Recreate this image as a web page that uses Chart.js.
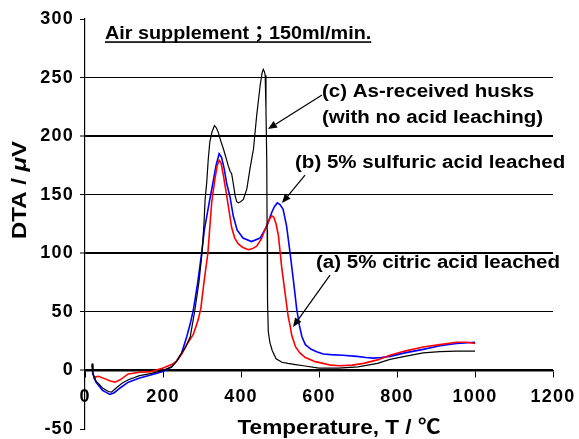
<!DOCTYPE html>
<html>
<head>
<meta charset="utf-8">
<script src="https://cdn.jsdelivr.net/npm/chart.js@4.4.1/dist/chart.umd.min.js"></script>
<style>
  html, body { margin: 0; padding: 0; background: #ffffff; }
  #wrap { width: 579px; height: 439px; }
</style>
</head>
<body>
<div id="wrap"><canvas id="c" width="579" height="439"></canvas></div>
<script>
// ---- Data ----
// (c) As-received husks (black)
const tempC = [18,20,28,45,60,68,80,95,111,140,171,200,222,235,248,258,270,282,292,300,305,308,312,316,320,326,332,337,342,348,355,362,367,372,376,380,385,389,393,399,406,415,423,432,440,449,454,457,460,462,464,466,467,468,470,474,480,490,505,520,540,560,600,650,700,750,782,820,867,910,953,1000];
const dtaC  = [6,-2,-9,-15,-18,-18.5,-15,-11,-8,-4.5,-2.5,0,3,8,15,20,29,52,75,100,125,146,160,180,195,204,209,207,203,196,189,181,175,170,168,160,149,144,143,144,146,155,172,189,217,243,254,257,255,252,223,180,120,60,33,24,17,10,7,6,5,4,2,2,3,6,9.4,12,15,16,16.5,16.5];

// (b) 5% sulfuric acid leached (blue)
const tempB = [18,20,28,45,64,75,90,111,140,171,200,222,235,248,261,270,278,289,299,306,313,320,328,336,344,350,357,363,372,380,390,405,427,449,466,479,486,493,500,508,517,526,534,543,550,556,565,580,594,611,630,660,697,720,739,760,782,820,867,910,953,1000];
const dtaB  = [5,-3,-10,-17,-20.5,-19,-15,-10,-6.5,-3.6,-1,3,8,15,29,40,52,75,100,120,133,146,160,175,185,182,172,160,148,132,120,113,110,113,123,135,140,143,141.5,137.6,123,100,78,52,38,29,22,18,16,14,13.5,13,12,11,10.5,11,12,15,18,21,23,24];

// (a) 5% citric acid leached (red)
const tempA = [21,28,35,50,65,77,90,111,140,171,200,222,235,248,261,278,290,297,305,315,320,325,333,339,344,349,355,363,370,376,384,393,405,419,430,440,452,462,471,479,484,490,496,504,513,521,526,530,540,551,565,577,590,611,630,654,685,714,750,782,820,867,910,953,980,1000];
const dtaA  = [-7,-5.5,-5,-7,-9,-10,-8,-3,-1.5,-1,2,5,8,14,22,31,43,53,75,100,122,144,163,175,179.5,177,166,150,135,122,113,108,105,103,104,106,112,120.5,128,132,131,125,115,89,66,46,38,30,20,15,11,9.4,7.5,6,4.5,4,4.5,6,9,13,16.5,20,22,24,24,23];

// Tick labels
const xTickValues = [0,200,400,600,800,1000,1200];
const yTickValues = [-50,0,50,100,150,200,250,300];

// Texts
const seriesLabels = ["(a) 5% citric acid leached", "(b) 5% sulfuric acid leached", "(c) As-received husks"];
const seriesLabelC2 = "(with no acid leaching)";
const noteText = "Air supplement；150ml/min.";
const xTitle = "Temperature, T / ℃";
const yTitleParts = [["DTA / ", false], ["μ", true], ["V", false]];

const FONT = "'Liberation Sans', Arial, 'Noto Sans CJK JP', sans-serif";

function pts(t, v) { return t.map((x, i) => ({ x: x, y: v[i] })); }

function drawStretched(ctx, str, px, py, size, stretch, align, italic) {
  ctx.save();
  ctx.font = (italic ? "italic " : "") + "bold " + size + "px " + FONT;
  ctx.textBaseline = "alphabetic";
  const w = ctx.measureText(str).width * stretch;
  let x0 = px;
  if (align === "center") x0 = px - w / 2;
  else if (align === "right") x0 = px - w;
  ctx.translate(x0, py);
  ctx.scale(stretch, 1);
  ctx.textAlign = "left";
  ctx.fillStyle = "#000";
  ctx.fillText(str, 0, 0);
  ctx.restore();
  return w;
}

function measureStretched(ctx, str, size, stretch, italic) {
  ctx.save();
  ctx.font = (italic ? "italic " : "") + "bold " + size + "px " + FONT;
  const w = ctx.measureText(str).width * stretch;
  ctx.restore();
  return w;
}

function arrow(ctx, x1, y1, x2, y2) {
  ctx.save();
  ctx.strokeStyle = "#000";
  ctx.fillStyle = "#000";
  ctx.lineWidth = 1.2;
  const ang = Math.atan2(y2 - y1, x2 - x1);
  const L = 9, H = 3.8;
  const bx = x2 - L * Math.cos(ang), by = y2 - L * Math.sin(ang);
  ctx.beginPath();
  ctx.moveTo(x1, y1);
  ctx.lineTo(bx, by);
  ctx.stroke();
  ctx.beginPath();
  ctx.moveTo(x2, y2);
  ctx.lineTo(bx + H * Math.sin(ang), by - H * Math.cos(ang));
  ctx.lineTo(bx - H * Math.sin(ang), by + H * Math.cos(ang));
  ctx.closePath();
  ctx.fill();
  ctx.restore();
}

const spacingPlugin = {
  id: "spacing",
  beforeDraw(chart) {
    try { chart.ctx.letterSpacing = "1.2px"; } catch (e) {}
  },
  afterDatasetsDraw(chart) {
    try { chart.ctx.letterSpacing = "0px"; } catch (e) {}
  }
};

const annotPlugin = {
  id: "annot",
  afterDraw(chart) {
    const ctx = chart.ctx;
    try { ctx.letterSpacing = "0px"; } catch (e) {}
    const xs = chart.scales.x, ys = chart.scales.y;
    const X = v => xs.getPixelForValue(v), Y = v => ys.getPixelForValue(v);

    // Note at top (underlined)
    const nx = X(51.3), ny = Y(282.7);
    const nw = drawStretched(ctx, noteText, nx, ny, 18, 1.1, "left");
    ctx.save();
    ctx.fillStyle = "#000";
    ctx.fillRect(nx, ny + 2, nw, 1.6);
    ctx.restore();

    // Series labels
    drawStretched(ctx, seriesLabels[2], X(607.7), Y(233.4), 18, 1.14, "left");
    drawStretched(ctx, seriesLabelC2, X(607.7), Y(211.2), 18, 1.14, "left");
    drawStretched(ctx, seriesLabels[1], X(538.5), Y(172.5), 18, 1.14, "left");
    drawStretched(ctx, seriesLabels[0], X(592.3), Y(87.7), 18, 1.14, "left");

    // Arrows (data coordinates)
    arrow(ctx, X(607.7), Y(235.1), X(469.2), Y(206.1));
    arrow(ctx, X(564.1), Y(166.8), X(505.1), Y(142.9));
    arrow(ctx, X(628.2), Y(81.4), X(533.3), Y(37.1));

    // Axis titles
    drawStretched(ctx, xTitle, 339, 434, 20, 1.13, "center");
    ctx.save();
    ctx.translate(26, 190);
    ctx.rotate(-Math.PI / 2);
    let total = 0;
    yTitleParts.forEach(p => { total += measureStretched(ctx, p[0], 20, 1.2, p[1]); });
    let cx = -total / 2;
    yTitleParts.forEach(p => { cx += drawStretched(ctx, p[0], cx, 0, 20, 1.2, "left", p[1]); });
    ctx.restore();
  }
};

function zeroPadding(s) {
  s.paddingTop = 0; s.paddingBottom = 0; s.paddingLeft = 0; s.paddingRight = 0;
}

const chart = new Chart(document.getElementById("c"), {
  type: "line",
  data: {
    datasets: [
      { label: seriesLabels[2], data: pts(tempC, dtaC), borderColor: "#000000", borderWidth: 1.2, pointRadius: 0, tension: 0, fill: false },
      { label: seriesLabels[0], data: pts(tempA, dtaA), borderColor: "#ff0000", borderWidth: 1.6, pointRadius: 0, tension: 0, fill: false },
      { label: seriesLabels[1], data: pts(tempB, dtaB), borderColor: "#0000ff", borderWidth: 1.6, pointRadius: 0, tension: 0, fill: false }
    ]
  },
  options: {
    responsive: false,
    animation: false,
    devicePixelRatio: 1,
    layout: { padding: { left: 0, top: 19, right: 26, bottom: 10 } },
    plugins: { legend: { display: false }, tooltip: { enabled: false }, title: { display: false } },
    scales: {
      x: {
        type: "linear",
        position: { y: 0 },
        min: 0, max: 1200,
        afterBuildTicks: s => { s.ticks = xTickValues.map(v => ({ value: v })); },
        grid: { display: true, drawOnChartArea: false, drawTicks: true, tickLength: 6, tickColor: "#000", tickWidth: 1 },
        border: { display: true, color: "#000", width: 1.5 },
        ticks: { color: "#000", font: { family: FONT, size: 18, weight: "bold", lineHeight: 1 }, padding: 12, maxRotation: 0, autoSkip: false, callback: v => String(v) },
        afterFit: s => { s.height = 0; zeroPadding(s); }
      },
      y: {
        type: "linear",
        position: "left",
        min: -50, max: 300,
        afterBuildTicks: s => { s.ticks = yTickValues.map(v => ({ value: v })); },
        grid: {
          display: true,
          drawOnChartArea: true,
          drawTicks: true,
          tickLength: 5,
          tickColor: "#000",
          tickWidth: 1,
          color: c => (c.tick && (c.tick.value === 300 || c.tick.value === -50)) ? "rgba(0,0,0,0)" : "#000",
          lineWidth: c => (c.tick && (c.tick.value === 200 || c.tick.value === 100 || c.tick.value === 0)) ? 2 : 1
        },
        border: { display: true, color: "#000", width: 1.2 },
        ticks: { color: "#000", font: { family: FONT, size: 18, weight: "bold", lineHeight: 1 }, padding: 6, autoSkip: false, callback: v => String(v) },
        afterFit: s => { s.width = 85; zeroPadding(s); }
      }
    }
  },
  plugins: [spacingPlugin, annotPlugin]
});
</script>
</body>
</html>
